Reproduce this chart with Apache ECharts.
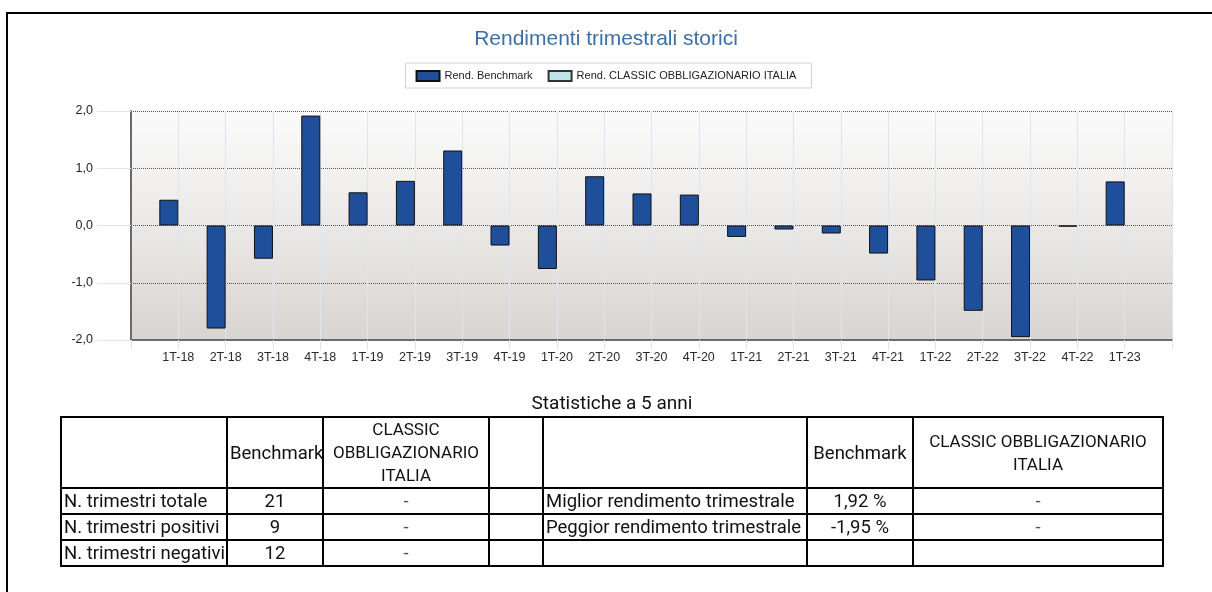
<!DOCTYPE html>
<html>
<head>
<meta charset="utf-8">
<script src="https://cdn.jsdelivr.net/npm/echarts@6/dist/echarts.min.js"></script>
<style>
  html, body { margin: 0; padding: 0; background: #fff; overflow: hidden; }
  #page { position: relative; width: 1212px; height: 592px; }
  #frame { position: absolute; left: 6px; top: 12px; width: 1300px; height: 700px;
    border-top: 2px solid #000; border-left: 2px solid #000; }
  #chart { position: absolute; left: 0; top: 0; width: 1212px; height: 592px; }
  #statsTitle { position: absolute; left: 0; width: 1224px; top: 391px; text-align: center;
    font-family: Roboto, sans-serif; font-size: 19px; color: #111; }
  #stats { position: absolute; left: 60px; top: 416px; width: 1102px; border-collapse: collapse; table-layout: fixed;
    font-family: Roboto, sans-serif; font-size: 18.5px; color: #111; }
  #stats td { border: 2px solid #000; padding: 0 2px; height: 24px; line-height: 24px; white-space: nowrap; overflow: hidden; }
  #stats tr.head td { height: 68px; line-height: 22px; }
  #stats td.c { text-align: center; }
  #stats td.dash { text-align: center; color: #555; }
  #stats tr.head td.cap { font-size: 17px; text-align: center; line-height: 23px; }
</style>
</head>
<body>
<div id="page">
  <div id="frame"></div>
  <div id="chart"></div>
  <div id="statsTitle"></div>
  <table id="stats"></table>
</div>
<script>
// quarters and benchmark quarterly returns (%)
const categories = ['1T-18', '2T-18', '3T-18', '4T-18', '1T-19', '2T-19', '3T-19', '4T-19', '1T-20', '2T-20', '3T-20',
  '4T-20', '1T-21', '2T-21', '3T-21', '4T-21', '1T-22', '2T-22', '3T-22', '4T-22', '1T-23'];
const benchmarkValues = [0.45, -1.80, -0.58, 1.92, 0.58, 0.78, 1.31, -0.35, -0.76, 0.86, 0.56,
  0.54, -0.20, -0.07, -0.14, -0.49, -0.96, -1.49, -1.95, -0.02, 0.77];
const fundValues = [];
const seriesNames = ['Rend. Benchmark', 'Rend. CLASSIC OBBLIGAZIONARIO ITALIA'];
const yTicks = [-2, -1, 0, 1, 2];

// table "Statistiche a 5 anni"
const statsTitle = 'Statistiche a 5 anni';
const leftLabels = ['N. trimestri totale', 'N. trimestri positivi', 'N. trimestri negativi'];
const leftBenchmark = ['21', '9', '12'];
const leftFund = ['-', '-', '-'];
const rightLabels = ['Miglior rendimento trimestrale', 'Peggior rendimento trimestrale', ''];
const rightBenchmark = ['1,92 %', '-1,95 %', ''];
const rightFund = ['-', '-', ''];

const colWidths = [166, 96, 166, 54, 264, 106, 250];

function buildTable () {
  document.getElementById('statsTitle').textContent = statsTitle;
  let html = '<colgroup>' + colWidths.map(w => '<col style="width:' + w + 'px">').join('') + '</colgroup>';
  html += '<tr class="head"><td></td><td class="c">Benchmark</td>' +
    '<td class="cap">CLASSIC<br>OBBLIGAZIONARIO<br>ITALIA</td><td></td><td></td>' +
    '<td class="c">Benchmark</td><td class="cap">CLASSIC OBBLIGAZIONARIO<br>ITALIA</td></tr>';
  for (let i = 0; i < leftLabels.length; i++) {
    html += '<tr><td>' + leftLabels[i] + '</td><td class="c">' + leftBenchmark[i] + '</td><td class="dash">' + leftFund[i] +
      '</td><td></td><td>' + rightLabels[i] + '</td><td class="c">' + rightBenchmark[i] + '</td><td class="dash">' + rightFund[i] + '</td></tr>';
  }
  document.getElementById('stats').innerHTML = html;
}

function drawChart () {
  const chart = echarts.init(document.getElementById('chart'));
  // empty slots at both ends so the quarters sit one step away from the edges
  const axisData = [''].concat(categories, ['']);
  const benchData = [null].concat(benchmarkValues, [null]);

  const options = {
    animation: false,
    title: {
      text: 'Rendimenti trimestrali storici',
      left: 'center',
      top: 29,
      padding: 0,
      textStyle: { fontFamily: 'Liberation Sans', fontSize: 21, fontWeight: 'normal', color: '#3b70a6' }
    },
    legend: {
      data: seriesNames,
      icon: 'rect',
      left: 'center',
      top: 63,
      padding: [7, 15, 6, 10],
      itemGap: 15,
      itemWidth: 23,
      itemHeight: 10,
      borderColor: '#d2d2d2',
      borderWidth: 1,
      textStyle: { fontFamily: 'Liberation Sans', fontSize: 11, color: '#222' }
    },
    grid: {
      left: 131,
      right: 40,
      top: 111,
      bottom: 252,
      show: true,
      borderWidth: 0,
      backgroundColor: new echarts.graphic.LinearGradient(0, 0, 0, 1, [
        { offset: 0, color: '#fbfbfb' },
        { offset: 0.5, color: '#ebe9e7' },
        { offset: 1, color: '#d7d4d1' }
      ])
    },
    xAxis: {
      type: 'category',
      data: axisData,
      boundaryGap: false,
      axisLine: { onZero: false, lineStyle: { color: '#6a6a6a', width: 2 } },
      axisTick: { show: true, length: 10, interval: 0, lineStyle: { color: '#dce6f3' } },
      splitLine: { show: true, interval: 0, lineStyle: { color: '#dce6f3', width: 1 } },
      axisLabel: { interval: 0, margin: 11, fontFamily: 'Liberation Sans', fontSize: 12.5, color: '#2a2a2a' }
    },
    yAxis: {
      type: 'value',
      min: yTicks[0],
      max: yTicks[yTicks.length - 1],
      interval: 1,
      axisLine: { show: true, lineStyle: { color: '#6a6a6a', width: 2 } },
      axisTick: { show: true, length: 34, lineStyle: { color: '#dce6f3' } },
      splitLine: { show: true, lineStyle: { color: '#555', type: 'dotted', width: 1 } },
      axisLabel: {
        margin: 38,
        fontFamily: 'Liberation Sans',
        fontSize: 12.5,
        color: '#222',
        formatter: function (v) {
          return v.toFixed(1).replace('.', ',');
        }
      }
    },
    series: [{
      name: seriesNames[0],
      type: 'bar',
      data: benchData,
      barWidth: 19,
      barGap: '0%',
      itemStyle: { color: '#1f4e9b', borderColor: '#111', borderWidth: 1 }
    }, {
      name: seriesNames[1],
      type: 'bar',
      data: fundValues,
      barWidth: 19,
      itemStyle: { color: '#bfe4ea', borderColor: '#333', borderWidth: 1 }
    }]
  };
  chart.setOption(options);
}

buildTable();
drawChart();
</script>
</body>
</html>
